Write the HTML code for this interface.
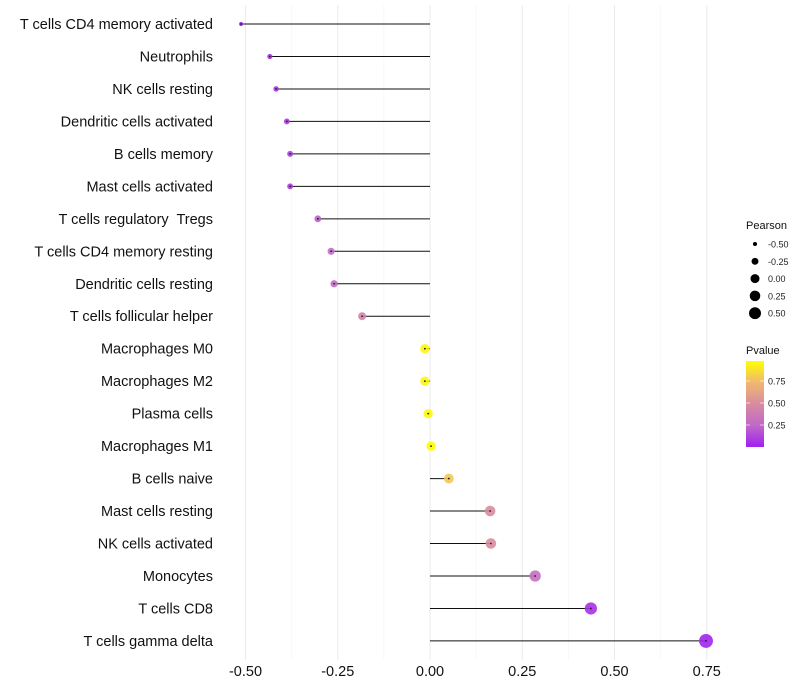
<!DOCTYPE html>
<html><head><meta charset="utf-8"><style>
html,body{margin:0;padding:0;background:#fff;}
svg{display:block;font-family:"Liberation Sans",sans-serif;}
text{white-space:pre;}
</style></head><body>
<svg id="chart" width="800" height="700">
<g id="grid"></g>
<g id="marks"></g>
<g id="ylabels"></g>
<g id="xlabels"></g>
<g id="legend"></g>
</svg>
<script>
const categories=["T cells CD4 memory activated","Neutrophils","NK cells resting","Dendritic cells activated","B cells memory","Mast cells activated","T cells regulatory  Tregs","T cells CD4 memory resting","Dendritic cells resting","T cells follicular helper","Macrophages M0","Macrophages M2","Plasma cells","Macrophages M1","B cells naive","Mast cells resting","NK cells activated","Monocytes","T cells CD8","T cells gamma delta"];
const pearson=[-0.512,-0.434,-0.417,-0.388,-0.379,-0.379,-0.304,-0.268,-0.260,-0.184,-0.014,-0.014,-0.005,0.003,0.051,0.163,0.165,0.285,0.436,0.748];
const pvalue=[0.02,0.06,0.07,0.09,0.10,0.10,0.22,0.27,0.28,0.43,0.97,0.97,0.98,0.99,0.80,0.50,0.50,0.30,0.06,0.01];
const xTicks=[-0.5,-0.25,0,0.25,0.5,0.75];
const xTickLabels=["-0.50","-0.25","0.00","0.25","0.50","0.75"];
const sizeLegend=[-0.5,-0.25,0,0.25,0.5];
const sizeLegendLabels=["-0.50","-0.25","0.00","0.25","0.50"];
const colorTicks=[0.25,0.5,0.75];
const colorTickLabels=["0.25","0.50","0.75"];

const NS="http://www.w3.org/2000/svg";
const x=v=>430+v*369;
const y=i=>24+i*32.47;
const rad=v=>Math.sqrt(Math.max(1,4+(v+0.52)*35));
const stops=[[0,[160,32,240]],[0.25,[192,104,200]],[0.5,[216,140,160]],[0.75,[240,184,112]],[1,[255,255,0]]];
function col(p){for(let k=0;k<stops.length-1;k++){const[a,ca]=stops[k],[b,cb]=stops[k+1];if(p<=b){const t=(p-a)/(b-a);return `rgb(${ca.map((c,j)=>Math.round(c+(cb[j]-c)*t)).join(",")})`;}}return "rgb(255,255,0)";}
function el(t,a,parent){const e=document.createElementNS(NS,t);for(const k in a)e.setAttribute(k,a[k]);parent.appendChild(e);return e;}
const grid=document.getElementById('grid'),marks=document.getElementById('marks'),yl=document.getElementById('ylabels'),xl=document.getElementById('xlabels'),lg=document.getElementById('legend');
for(let v=-0.625;v<=0.8;v+=0.125){const major=Math.abs(v/0.25-Math.round(v/0.25))<1e-6;if(x(v)<222)continue;
 const l=el('line',{x1:x(v),x2:x(v),y1:5,y2:660,stroke:major?'#ebebeb':'#f4f4f4','stroke-width':major?1:0.6},grid);
 
 }
categories.forEach((c,i)=>{
 const ln=el('line',{x1:x(0),x2:x(pearson[i]),y1:y(i),y2:y(i),stroke:'#111','stroke-width':1},marks);
 
 
 const d=el('circle',{cx:x(pearson[i]),cy:y(i),r:rad(pearson[i]),fill:col(pvalue[i]),'fill-opacity':0.9},marks);
 
 
 el('circle',{cx:x(pearson[i]),cy:y(i),r:0.9,fill:'#222'},marks);
 const t=el('text',{x:213,y:y(i)+5,'text-anchor':'end','font-size':14.5,fill:'#111'},yl);t.textContent=c;
 
 
});
xTicks.forEach((v,i)=>{const t=el('text',{x:x(v),y:676,'text-anchor':'middle','font-size':14.5,fill:'#111'},xl);t.textContent=xTickLabels[i];
 
 });
let t=el('text',{x:746,y:229,'font-size':11,fill:'#111'},lg);t.textContent='Pearson';


sizeLegend.forEach((v,i)=>{const cy=244+i*17.3;
 const c=el('circle',{cx:755,cy:cy,r:rad(v)*0.95,fill:'#000'},lg);
 
 
 const tt=el('text',{x:768,y:cy+3.5,'font-size':9,fill:'#222'},lg);tt.textContent=sizeLegendLabels[i];
 
 });
t=el('text',{x:746,y:354,'font-size':11,fill:'#111'},lg);t.textContent='Pvalue';


const defs=el('defs',{},lg);const gr=el('linearGradient',{id:'pg',x1:0,y1:1,x2:0,y2:0},defs);
stops.forEach(s=>el('stop',{offset:s[0],'stop-color':col(s[0])},gr));
const bar=el('rect',{x:746,y:361,width:18,height:86,fill:'url(#pg)'},lg);


const cb=p=>447-p*88;
colorTicks.forEach((v,i)=>{el('line',{x1:746,x2:750,y1:cb(v),y2:cb(v),stroke:'#fff','stroke-width':0.6},lg);el('line',{x1:760,x2:764,y1:cb(v),y2:cb(v),stroke:'#fff','stroke-width':0.6},lg);
 const tt=el('text',{x:768,y:cb(v)+3.5,'font-size':9,fill:'#222'},lg);tt.textContent=colorTickLabels[i];
 
 });
</script>
</body></html>
